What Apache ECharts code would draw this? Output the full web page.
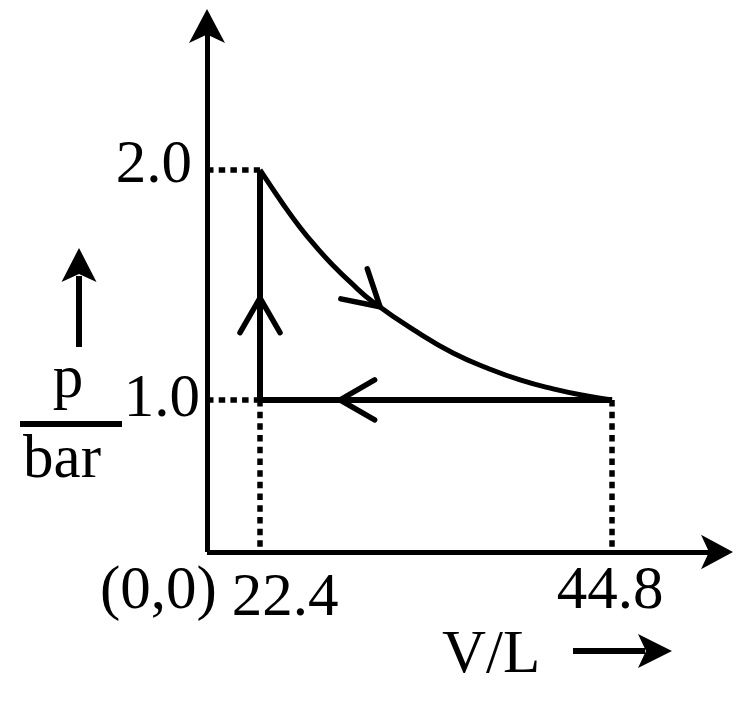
<!DOCTYPE html>
<html><head><meta charset="utf-8">
<script src="https://cdn.jsdelivr.net/npm/echarts@6/dist/echarts.min.js"></script>
<style>html,body{margin:0;padding:0;background:#fff}#c{width:747px;height:705px}</style>
</head><body><div id="c"></div>
<script>
// Expansion curve B -> C (V in L, p in bar)
const curveV = [22.4, 23.86, 24.95, 26.03, 27.05, 28.13, 29.59, 32.58, 34.68, 36.85, 38.95, 41.05, 43.21, 44.8];
const curveP = [2.0, 1.852, 1.75, 1.661, 1.585, 1.513, 1.426, 1.287, 1.204, 1.139, 1.087, 1.048, 1.017, 1.0];
// Isochoric step A -> B
const isoV = [22.4, 22.4];
const isoP = [1.0, 2.0];
// Isobaric step C -> A
const baroV = [44.8, 22.4];
const baroP = [1.0, 1.0];
// Tick labels
const xTicks = [22.4, 44.8];
const yTicks = [1.0, 2.0];
const originLabel = '(0,0)';
const xName = 'V/L';
const yNameTop = 'p';
const yNameBottom = 'bar';
// Direction arrows: [tailV, tailP, headV, headP]
const dirArrows = [
  [22.4, 1.20, 22.4, 1.4435],
  [28.13, 1.52, 30.04, 1.405],
  [30.0, 1.0, 27.49, 1.0]
];

const FONT = '"Liberation Serif", "Times New Roman", serif';
const FS = 61;
const xMin = 19.027, xMax = 52.18, yMin = 0.339, yMax = 2.678;

const chart = echarts.init(document.getElementById('c'), null, {renderer: 'canvas'});

function lineSeries(name, xs, ys, width, dashed) {
  return {
    name: name, type: 'line', showSymbol: false, symbol: 'none', silent: true,
    data: xs.map((v, i) => [v, ys[i]]),
    lineStyle: {color: '#000', width: width, type: dashed ? [6.5, 5.2] : 'solid', cap: 'butt'},
    z: 3, animation: false
  };
}

const guides = [
  [[xMin, 22.4], [2.0, 2.0]],
  [[xMin, 22.4], [1.0, 1.0]],
  [[22.4, 22.4], [1.0, yMin]],
  [[44.8, 44.8], [1.0, yMin]]
];

const series = [];
guides.forEach((g, i) => series.push(lineSeries('guide' + i, g[0], g[1], 5.5, true)));
series.push(Object.assign(lineSeries('curve', curveV, curveP, 5, false), {smooth: 0.5}));
series.push(lineSeries('isochoric', isoV, isoP, 6, false));
series.push(lineSeries('isobaric', baroV, baroP, 6, false));
series.push({
  type: 'custom', coordinateSystem: 'cartesian2d', silent: true, z: 5,
  data: dirArrows, encode: {x: [0, 2], y: [1, 3]},
  renderItem: function (params, api) {
    const t = api.coord([api.value(0), api.value(1)]);
    const h = api.coord([api.value(2), api.value(3)]);
    let dx = h[0] - t[0], dy = h[1] - t[1];
    const len = Math.hypot(dx, dy); dx /= len; dy /= len;
    const L = 40, a = 30 * Math.PI / 180;
    const rot = (ang) => [dx * Math.cos(ang) - dy * Math.sin(ang), dx * Math.sin(ang) + dy * Math.cos(ang)];
    const r1 = rot(a), r2 = rot(-a);
    return {
      type: 'polyline',
      shape: {points: [[h[0] - L * r1[0], h[1] - L * r1[1]], h, [h[0] - L * r2[0], h[1] - L * r2[1]]]},
      style: {stroke: '#000', lineWidth: 5.5, fill: null, lineCap: 'round', lineJoin: 'miter'}
    };
  }
});

// Tick labels placed at their values through the axes
const labelBase = {show: true, position: 'inside', color: '#000', fontFamily: FONT, fontSize: FS,
  verticalAlign: 'middle', formatter: (p) => Number(p.value[2]).toFixed(1)};
const xLabelOffsets = [[25, 47], [-2, 40]];
const yLabelOffsets = [[-7, 0], [-15, -4]];
series.push({
  type: 'scatter', silent: true, symbolSize: 0, clip: false, z: 6,
  itemStyle: {opacity: 1, color: '#000'},
  emphasis: {disabled: true},
  data: xTicks.map((v, i) => ({value: [v, yMin, v], label: Object.assign({}, labelBase, {align: 'center', offset: xLabelOffsets[i]})}))
    .concat(yTicks.map((v, i) => ({value: [xMin, v, v], label: Object.assign({}, labelBase, {align: 'right', offset: yLabelOffsets[i]})})))
});

const txt = (x, y, text, align, valign) => ({
  type: 'text', x: x, y: y, silent: true,
  style: {text: text, font: FS + 'px ' + FONT, fill: '#000', textAlign: align, textVerticalAlign: valign, align: align, verticalAlign: valign}
});

const axisCommon = {
  type: 'value',
  axisTick: {show: false}, splitLine: {show: false}, axisLabel: {show: false}
};

chart.setOption({
  animation: false,
  backgroundColor: '#fff',
  grid: {left: 207, right: 19, top: 14, bottom: 153, containLabel: false},
  xAxis: Object.assign({}, axisCommon, {
    min: xMin, max: xMax,
    axisLine: {show: true, onZero: false, symbol: ['none', 'arrow'], symbolSize: [26, 32], symbolOffset: [0, 5],
      lineStyle: {color: '#000', width: 5, cap: 'butt'}}
  }),
  yAxis: Object.assign({}, axisCommon, {
    min: yMin, max: yMax,
    axisLine: {show: true, onZero: false, symbol: ['none', 'arrow'], symbolSize: [27, 34], symbolOffset: [0, 5],
      lineStyle: {color: '#000', width: 5, cap: 'butt'}}
  }),
  graphic: [
    txt(100, 592, originLabel, 'left', 'middle'),
    txt(442, 656, xName, 'left', 'middle'),
    {type: 'line', silent: true, shape: {x1: 573, y1: 651, x2: 645, y2: 651}, style: {stroke: '#000', lineWidth: 6}},
    {type: 'polygon', silent: true, shape: {points: [[672, 651], [638, 634], [646, 651], [638, 668]]}, style: {fill: '#000'}},
    txt(68, 381, yNameTop, 'center', 'middle'),
    {type: 'rect', silent: true, shape: {x: 20, y: 421, width: 102, height: 6}, style: {fill: '#000'}},
    txt(62, 461, yNameBottom, 'center', 'middle'),
    {type: 'line', silent: true, shape: {x1: 79, y1: 347, x2: 79, y2: 276}, style: {stroke: '#000', lineWidth: 6}},
    {type: 'polygon', silent: true, shape: {points: [[79, 248], [96.5, 282], [79, 274], [61.5, 282]]}, style: {fill: '#000'}}
  ],
  series: series
});
</script>
</body></html>
